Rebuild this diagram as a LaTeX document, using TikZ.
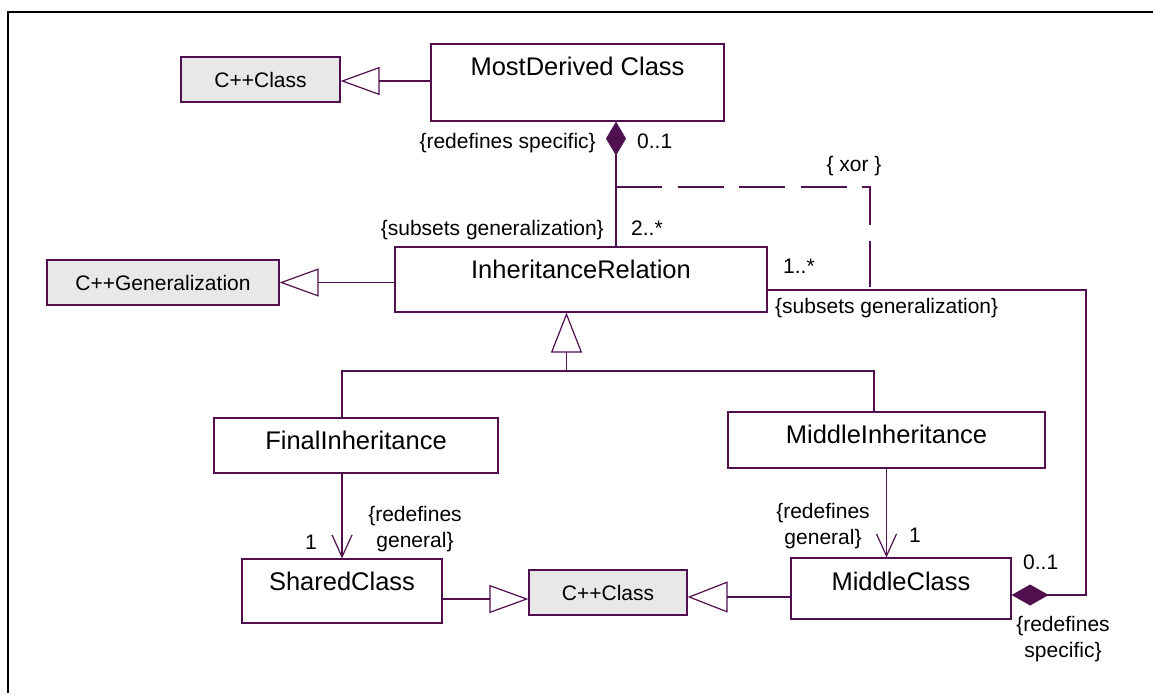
\documentclass[tikz,border=0pt]{standalone}
\usepackage{fontspec}
\setmainfont{Liberation Sans}
\usetikzlibrary{arrows.meta}
\definecolor{lc}{RGB}{80,16,80}
\definecolor{gf}{RGB}{232,232,232}
\begin{document}
\begin{tikzpicture}[x=1pt,y=-1pt,
  cls/.style={draw=lc, line width=1.2pt, fill=white, inner sep=0pt, anchor=center},
  ext/.style={cls, fill=gf, font=\fontsize{21}{25}\selectfont},
  cname/.style={font=\fontsize{25.5}{30}\selectfont, inner sep=0pt, anchor=base},
  lbl/.style={font=\fontsize{21}{25.5}\selectfont, inner sep=0pt, align=center},
  conn/.style={draw=lc, line width=1.2pt},
  gen/.style={conn, -{Triangle[open, length=39pt, width=28pt]}},
  genbig/.style={conn, -{Triangle[open, length=40pt, width=31pt]}},
  nav/.style={conn, -{Straight Barb[length=22pt, width=20pt]}},
  comp/.style={conn, {Diamond[length=34pt, width=20pt, fill=lc]}-},
  compb/.style={conn, {Diamond[length=37pt, width=21pt, fill=lc]}-},
  xorline/.style={conn, dash pattern=on 46pt off 15.5pt}
]
\useasboundingbox (0,0) rectangle (1153,693);
% frame
\draw[line width=2pt] (8,693) -- (8,12) -- (1153,12);

% boxes
\node[ext, minimum width=159pt, minimum height=45pt] (cppA) at (260.5,79.5) {C++Class};
\node[cls, minimum width=293pt, minimum height=77pt] (md) at (577.5,82.5) {};
\node[ext, minimum width=232pt, minimum height=45pt] (cppG) at (163,282.5) {C++Generalization};
\node[cls, minimum width=372pt, minimum height=65pt] (ir) at (581,279.5) {};
\node[cls, minimum width=284pt, minimum height=55pt] (fi) at (356,445.5) {};
\node[cls, minimum width=317pt, minimum height=56pt] (mi) at (886.5,440) {};
\node[cls, minimum width=200pt, minimum height=64pt] (sc) at (342,591) {};
\node[ext, minimum width=158pt, minimum height=45pt] (cppB) at (608,592.5) {C++Class};
\node[cls, minimum width=220pt, minimum height=61pt] (mc) at (901,588.5) {};

% class names
\node[cname] (mdt) at ([yshift=-32pt]md.north) {MostDerived Class};
\node[cname] (irt) at ([yshift=-32pt]ir.north) {InheritanceRelation};
\node[cname] (fit) at ([yshift=-32pt]fi.north) {FinalInheritance};
\node[cname] (mit) at ([yshift=-32pt]mi.north) {MiddleInheritance};
\node[cname] (sct) at ([yshift=-32pt]sc.north) {SharedClass};
\node[cname] (mct) at ([yshift=-33pt]mc.north) {MiddleClass};

% helper coordinates
\coordinate (j1) at (616,187);
\coordinate (j2) at (870,187);
\coordinate (j3) at (870,290);
\coordinate (rc) at (1086,290);
\coordinate (tj) at (566.5,371);
\coordinate (tl) at (342,371);
\coordinate (tr) at (874,371);

% generalizations
\draw[gen] ([yshift=1.5pt]md.west) -- (cppA.east |- 0,81);
\draw[gen] (ir.west |- cppG.east) -- (cppG.east);
\draw[genbig] (tj) -- (ir.south -| tj);
\draw[conn] (fi.north -| tl) -- (tl) -- (tr) -- (mi.north -| tr);
\draw[gen] ([yshift=-8pt]sc.east) coordinate (s1) -- (cppB.west |- s1);
\draw[genbig] ([yshift=-8.5pt]mc.west) coordinate (m1) -- (cppB.east |- m1);

% compositions
\draw[comp] (md.south -| j1) -- (ir.north -| j1);
\draw[compb] ([yshift=-6.5pt]mc.east) coordinate (m2) -- (rc |- m2) -- (rc) -- (ir.east |- rc);

% xor constraint
\draw[xorline] (j1) -- (j2) -- (j3);

% navigable associations
\draw[nav] (fi.south -| sc.north) -- (sc.north);
\draw[nav] (mi.south) -- (mi.south |- mc.north);

% labels
\node[lbl, anchor=base east] (l1) at (596,148) {\{redefines specific\}};
\node[lbl, anchor=base west] (l2) at (637,148) {0..1};
\node[lbl, anchor=base east] (l3) at (604,235) {\{subsets generalization\}};
\node[lbl, anchor=base west] (l4) at (631,235) {2..*};
\node[lbl, anchor=base] (l5) at (854,171) {\{ xor \}};
\node[lbl, anchor=base west] (l6) at (783,273) {1..*};
\node[lbl, anchor=base west] (l7) at (775,313) {\{subsets generalization\}};
\node[lbl] (l8) at (415,529) {\{redefines\\general\}};
\node[lbl, anchor=base] (l9) at (311,549) {1};
\node[lbl] (l10) at (823,526) {\{redefines\\general\}};
\node[lbl, anchor=base] (l11) at (915,542) {1};
\node[lbl, anchor=base west] (l12) at (1023,569) {0..1};
\node[lbl] (l13) at (1063,639) {\{redefines\\specific\}};
\end{tikzpicture}
\end{document}
